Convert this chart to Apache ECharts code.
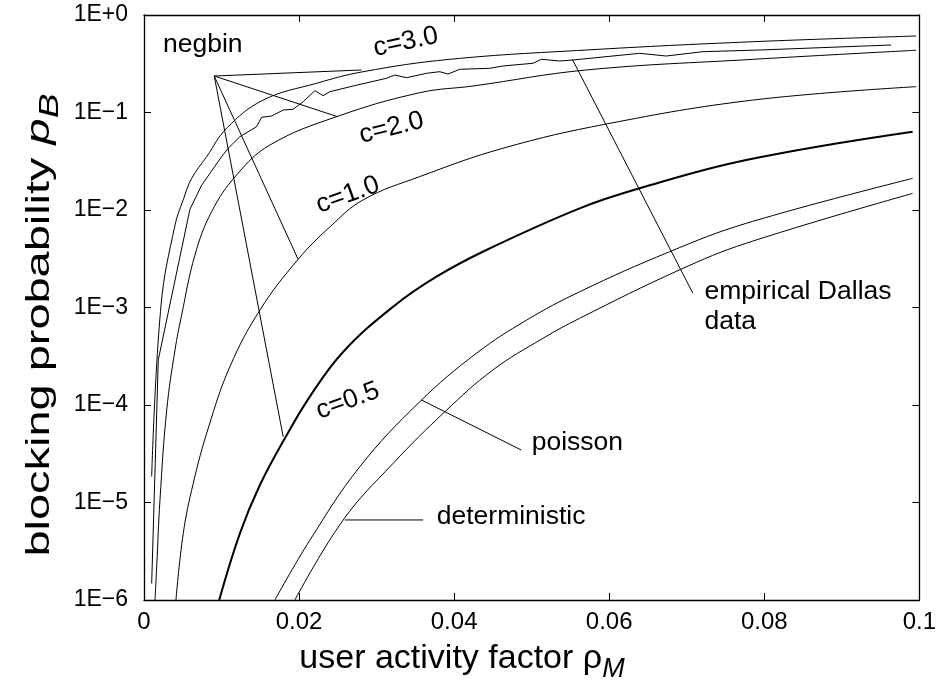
<!DOCTYPE html>
<html><head><meta charset="utf-8">
<script src="https://cdn.jsdelivr.net/npm/echarts@6/dist/echarts.min.js"></script>
<style>html,body{margin:0;padding:0;background:#fff}#c{width:939px;height:690px}</style>
</head><body><div id="c"></div>
<script>
// tick labels
const xTickLabels = ['0','0.02','0.04','0.06','0.08','0.1'];
const yTickLabels = ['1E\u22126','1E\u22125','1E\u22124','1E\u22123','1E\u22122','1E\u22121','1E+0'];

// negbin c=3.0
const c30X = [0.00099,0.0022,0.0040,0.00506,0.00615,0.00808,0.01066,0.01537,0.02226,0.02826,0.03943,0.05705,0.07852,0.0996];
const c30Y = [1.84e-5,1.06e-3,7.0e-3,0.0127,0.0211,0.0352,0.0689,0.134,0.1995,0.262,0.351,0.4375,0.532,0.609];
// negbin c=2.0
const c20X = [0.00142,0.00164,0.00206,0.00293,0.0040,0.00486,0.00657,0.00872,0.01195,0.01624,0.02483,0.03557,0.04244,0.05705,0.07852,0.0996];
const c20Y = [1e-6,2.2e-6,1.06e-5,8.9e-5,3.67e-4,8.4e-4,3.45e-3,9.6e-3,0.0229,0.0464,0.0906,0.1596,0.187,0.273,0.351,0.435];
// negbin c=1.0
const c10X = [0.00412,0.00506,0.00635,0.00829,0.01108,0.01495,0.01988,0.02397,0.02826,0.03557,0.0463,0.05963,0.07852,0.0996];
const c10Y = [1e-6,4.8e-6,1.57e-5,5.8e-5,2.47e-4,9.4e-4,3.12e-3,6.7e-3,0.0127,0.022,0.043,0.0762,0.134,0.184];
// negbin c=0.5
const c05X = [0.0097,0.01237,0.01495,0.01817,0.02139,0.02568,0.03213,0.03772,0.04416,0.05619,0.06392,0.07767,0.09914];
const c05Y = [1e-6,4.83e-6,1.51e-5,4.55e-5,1.22e-4,3.5e-4,1.02e-3,2.07e-3,3.89e-3,0.0104,0.0167,0.0326,0.0636];
// poisson
const poisX = [0.01688,0.02139,0.02784,0.03557,0.04287,0.04932,0.05619,0.06778,0.07767,0.09914];
const poisY = [1.0e-6,4.1e-6,2.33e-5,1.08e-4,3.39e-4,7.4e-4,1.45e-3,3.73e-3,7.3e-3,0.0211];
// deterministic
const detX = [0.01946,0.02568,0.03213,0.03879,0.04501,0.05146,0.05619,0.06907,0.07767,0.09914];
const detY = [1.0e-6,6.6e-6,2.52e-5,8.5e-5,2.29e-4,4.83e-4,7.75e-4,2.43e-3,4.56e-3,0.0148];
// empirical Dallas data
const dalX = [0.00099,0.00184,0.00387,0.00593,0.00744,0.01001,0.01086,0.01237,0.01452,0.01517,0.01646,0.01795,0.01924,0.02053,0.02204,0.02311,0.02397,0.02697,0.03128,0.03235,0.03385,0.03643,0.03814,0.03921,0.04072,0.04459,0.0463,0.05017,0.05125,0.05361,0.05532,0.06392,0.06736,0.07207,0.07938,0.09635];
const dalY = [1.48e-6,2.9e-4,1.7e-3,0.0102,0.018,0.0352,0.043,0.0565,0.0715,0.0893,0.092,0.106,0.108,0.129,0.1675,0.1487,0.1634,0.187,0.2244,0.2424,0.2274,0.2523,0.2621,0.248,0.2775,0.284,0.2999,0.3198,0.3514,0.3375,0.3455,0.4046,0.3796,0.4204,0.4375,0.4923];

// leader lines (data coords)
const negbinOrigin = [0.00906, 0.2367];
const negbinTargets = [[0.02805,0.273],[0.02496,0.0906],[0.01988,3.12e-3],[0.01795,4.73e-5]];
const dallasLeader = [[0.05525,0.351],[0.07079,1.4e-3]];
const poissonLeader = [[0.03578,1.125e-4],[0.04867,3.45e-5]];
const detLeader = [[0.0259,6.62e-6],[0.036,6.62e-6]];

// annotation texts and anchors (data coords)
const annTexts = ['negbin','c=3.0','c=2.0','c=1.0','c=0.5','poisson','deterministic','empirical Dallas','data'];
const annX = [0.00245,0.03376,0.03192,0.02629,0.02629,0.0500,0.03776,0.07229,0.07229];
const annY = [0.492,0.528,0.0693,0.01425,1.1e-4,4.07e-5,7.1e-6,1.44e-3,7.1e-4];
const annRot = [0,12,14,20,20,0,0,0,0];
const annAlign = ['left','center','center','center','center','left','left','left','left'];

const FONT = 'Liberation Sans';
const zip = (xs, ys) => xs.map((x, i) => [x, ys[i]]);

const chart = echarts.init(document.getElementById('c'), null, {renderer: 'canvas'});

function lineSeries(name, data, width) {
  return {
    name, type: 'line', data, showSymbol: false, symbol: 'none',
    smooth: 0.4,
    lineStyle: {color: '#000', width: width}, xAxisIndex: 0, yAxisIndex: 0,
    silent: true, animation: false, z: 3
  };
}
function segSeries(name, data) {
  return {
    name, type: 'line', data, showSymbol: false, symbol: 'none', smooth: false,
    lineStyle: {color: '#000', width: 1}, xAxisIndex: 0, yAxisIndex: 0,
    silent: true, animation: false, z: 3
  };
}

const series = [
  lineSeries('c=3.0', zip(c30X, c30Y), 1),
  lineSeries('c=2.0', zip(c20X, c20Y), 1),
  lineSeries('c=1.0', zip(c10X, c10Y), 1),
  lineSeries('c=0.5', zip(c05X, c05Y), 2),
  lineSeries('poisson', zip(poisX, poisY), 1),
  lineSeries('deterministic', zip(detX, detY), 1),
  segSeries('empirical Dallas data', zip(dalX, dalY))
];
negbinTargets.forEach((t, i) => series.push(segSeries('negbin leader ' + i, [negbinOrigin, t])));
series.push(segSeries('dallas leader', dallasLeader));
series.push(segSeries('poisson leader', poissonLeader));
series.push(segSeries('det leader', detLeader));

const axisCommon = {
  axisLine: {show: true, onZero: false, lineStyle: {color: '#000', width: 1.3}},
  axisTick: {show: true, inside: true, length: 7, lineStyle: {color: '#000', width: 1}},
  splitLine: {show: false},
  minorTick: {show: false}
};

chart.setOption({
  animation: false,
  backgroundColor: '#fff',
  grid: {left: 144, right: 19, top: 15, bottom: 90, containLabel: false},
  xAxis: [
    Object.assign({
      type: 'value', min: 0, max: 0.1, interval: 0.02, position: 'bottom',
      axisLabel: {show: true, color: '#000', fontFamily: FONT, fontSize: 24, margin: 10,
        formatter: v => xTickLabels[Math.round(v / 0.02)]}
    }, axisCommon),
    Object.assign({
      type: 'value', min: 0, max: 0.1, interval: 0.02, position: 'top',
      axisLabel: {show: false}
    }, axisCommon)
  ],
  yAxis: [
    Object.assign({
      type: 'log', logBase: 10, min: 1e-6, max: 1, splitNumber: 6, position: 'left',
      axisLabel: {show: true, color: '#000', fontFamily: FONT, fontSize: 23, margin: 16,
        formatter: v => yTickLabels[Math.round(Math.log10(v)) + 6]}
    }, axisCommon),
    Object.assign({
      type: 'log', logBase: 10, min: 1e-6, max: 1, splitNumber: 6, position: 'right',
      axisLabel: {show: false}
    }, axisCommon)
  ],
  series
});

const richTitle = {
  t: {fontFamily: FONT, fontSize: 34, fill: '#000'},
  r: {fontFamily: FONT, fontSize: 34, fill: '#000'},
  p: {fontFamily: FONT, fontSize: 34, fontStyle: 'italic', fill: '#000'},
  s: {fontFamily: FONT, fontSize: 27, fontStyle: 'italic', fill: '#000', padding: [20, 0, 0, 0]}
};

const graphics = annTexts.map((txt, i) => {
  const p = chart.convertToPixel({xAxisIndex: 0, yAxisIndex: 0}, [annX[i], annY[i]]);
  return {
    type: 'text', x: p[0], y: p[1], rotation: annRot[i] * Math.PI / 180, z: 10, silent: true,
    style: {text: txt, fill: '#000', fontFamily: FONT, fontSize: 26.5,
      align: annAlign[i], verticalAlign: 'middle'}
  };
});
// axis titles
graphics.push({
  type: 'text', x: 462, y: 659, z: 10, silent: true,
  style: {text: '{t|user activity factor }{r|\u03C1}{s|M}', rich: richTitle,
    align: 'center', verticalAlign: 'middle'}
});
graphics.push({
  type: 'text', x: 40, y: 325, rotation: Math.PI / 2, scaleX: 1.38, z: 10, silent: true,
  style: {text: '{t|blocking probability }{p|p}{s|B}', rich: richTitle,
    align: 'center', verticalAlign: 'middle'}
});
chart.setOption({graphic: graphics});
</script>
</body></html>
